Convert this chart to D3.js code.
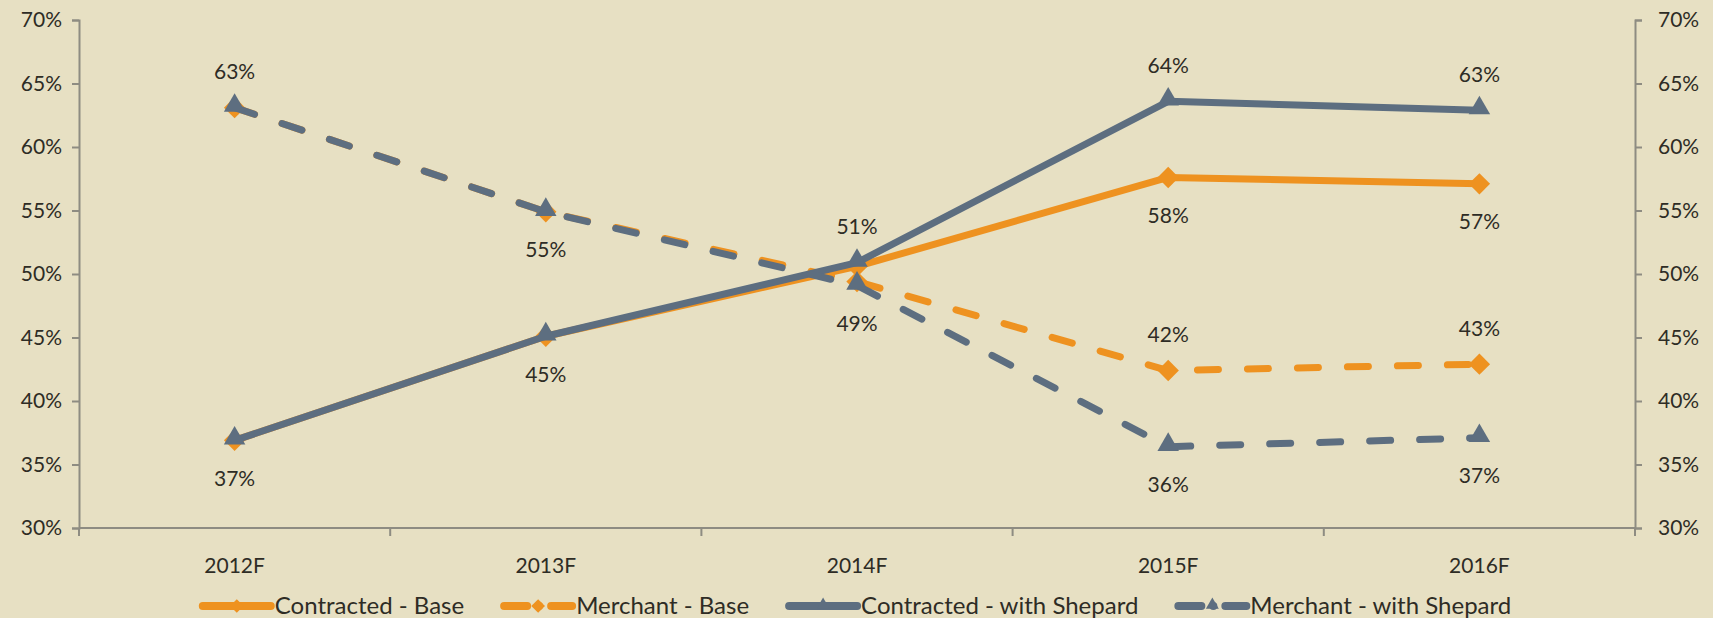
<!DOCTYPE html>
<html>
<head>
<meta charset="utf-8">
<script src="https://cdn.jsdelivr.net/npm/d3@7"></script>
<style>
  html, body { margin: 0; padding: 0; background: #e7e0c3; }
  svg { display: block; }
  text { font-family: Lato, "Open Sans", sans-serif; fill: #2e2c25; }
</style>
</head>
<body>
<svg id="chart" width="1713" height="618"></svg>
<script>
// categories + series (percent)
var years = ["2012F", "2013F", "2014F", "2015F", "2016F"];
var contractedBase = [36.9, 45.1, 50.6, 57.6, 57.1];
var merchantBase = [63.1, 54.9, 49.4, 42.4, 42.9];
var contractedShepard = [36.9, 45.1, 50.9, 63.6, 62.9];
var merchantShepard = [63.1, 54.9, 49.1, 36.4, 37.1];
var yTicks = [30, 35, 40, 45, 50, 55, 60, 65, 70];

// where the data labels go for each series (null = no label)
var cbLabels = ["below", "below", null, "below", "below"];
var mbLabels = ["above", "below", null, "above", "above"];
var csLabels = [null, null, "above", "above", "above"];
var msLabels = [null, null, "below", "below", "below"];

var orange = "#ee9220", slate = "#5d6e80";

var series = [
  {name: "Contracted - Base", values: contractedBase, color: orange, dash: null, marker: "diamond", labels: cbLabels},
  {name: "Merchant - Base", values: merchantBase, color: orange, dash: "21,29", marker: "diamond", labels: mbLabels},
  {name: "Contracted - with Shepard", values: contractedShepard, color: slate, dash: null, marker: "triangle", labels: csLabels},
  {name: "Merchant - with Shepard", values: merchantShepard, color: slate, dash: "21,29", marker: "triangle", labels: msLabels}
];

var svg = d3.select("#chart");
var plotLeft = 79, plotRight = 1635, plotTop = 20, plotBottom = 528;

var x = d3.scaleBand().domain(years).range([plotLeft, plotRight]);
var y = d3.scaleLinear().domain([30, 70]).range([plotBottom, plotTop]);

var axisColor = "#8e8c82";
var pct = function (d) { return d + "%"; };

// left axis
var yl = svg.append("g").attr("transform", "translate(" + plotLeft + ",0)")
  .call(d3.axisLeft(y).tickValues(yTicks).tickSize(7).tickPadding(10).tickFormat(pct));
// right axis
var yr = svg.append("g").attr("transform", "translate(" + plotRight + ",0)")
  .call(d3.axisRight(y).tickValues(yTicks).tickSize(7).tickPadding(16).tickFormat(pct));
// bottom axis, ticks at band edges
var xa = svg.append("g").attr("transform", "translate(0," + plotBottom + ")")
  .call(d3.axisBottom(x).tickSize(0).tickPadding(30));
xa.selectAll(".tick").append("line")
  .attr("x1", -x.step() / 2).attr("x2", -x.step() / 2)
  .attr("y1", 0).attr("y2", 8);
xa.append("line").attr("x1", plotRight).attr("x2", plotRight).attr("y1", 0).attr("y2", 8);

[yl, yr, xa].forEach(function (g) {
  g.selectAll(".domain").attr("stroke", axisColor).attr("stroke-width", 2);
  g.selectAll("line").attr("stroke", axisColor).attr("stroke-width", 2);
  g.selectAll("text").attr("font-size", 21).attr("fill", "#2e2c25")
    .style("font-family", "Lato, sans-serif");
});
xa.select(".domain").attr("d", "M" + plotLeft + ",0H" + plotRight);

var line = d3.line()
  .x(function (d, i) { return x(years[i]) + x.bandwidth() / 2; })
  .y(function (d) { return y(d); });

var diamond = d3.symbol().type(d3.symbolDiamond2).size(290);
var triangle = d3.symbol().type(d3.symbolTriangle2).size(330);

series.forEach(function (s) {
  var g = svg.append("g");
  g.append("path")
    .attr("d", line(s.values))
    .attr("fill", "none")
    .attr("stroke", s.color)
    .attr("stroke-width", 7)
    .attr("stroke-linecap", "round")
    .attr("stroke-linejoin", "round")
    .attr("stroke-dasharray", s.dash);
  g.selectAll("path.mark").data(s.values).enter().append("path")
    .attr("class", "mark")
    .attr("d", s.marker === "diamond" ? diamond : triangle)
    .attr("transform", function (d, i) {
      var dy = s.marker === "triangle" ? -2 : 0;
      return "translate(" + (x(years[i]) + x.bandwidth() / 2) + "," + (y(d) + dy) + ")";
    })
    .attr("fill", s.color);
});

// data labels
series.forEach(function (s) {
  s.values.forEach(function (v, i) {
    if (!s.labels[i]) return;
    svg.append("text")
      .attr("x", x(years[i]) + x.bandwidth() / 2)
      .attr("y", y(v) + (s.labels[i] === "above" ? -36 : 38))
      .attr("dy", "0.35em")
      .attr("text-anchor", "middle")
      .attr("font-size", 21)
      .text(Math.round(v) + "%");
  });
});

// legend, centred under the plot
var legend = svg.append("g");
var lx = 0, gap = 40, lineLen = 68;
series.forEach(function (s) {
  var it = legend.append("g").attr("transform", "translate(" + lx + ",0)");
  it.append("line")
    .attr("x1", 0).attr("x2", lineLen).attr("y1", 0).attr("y2", 0)
    .attr("stroke", s.color).attr("stroke-width", 8)
    .attr("stroke-linecap", "round")
    .attr("stroke-dasharray", s.dash ? "23,12,0,12,22" : null);
  it.append("path")
    .attr("d", d3.symbol().type(s.marker === "diamond" ? d3.symbolDiamond2 : d3.symbolTriangle2).size(120))
    .attr("transform", "translate(" + lineLen / 2 + "," + (s.marker === "triangle" ? -1 : 0) + ")")
    .attr("fill", s.color);
  var t = it.append("text")
    .attr("x", lineLen + 4).attr("dy", "0.35em")
    .attr("font-size", 24)
    .text(s.name);
  lx += lineLen + 4 + t.node().getComputedTextLength() + gap;
});
var lw = lx - gap;
legend.attr("transform", "translate(" + ((plotLeft + plotRight) / 2 - lw / 2) + ",606)");
</script>
</body>
</html>
